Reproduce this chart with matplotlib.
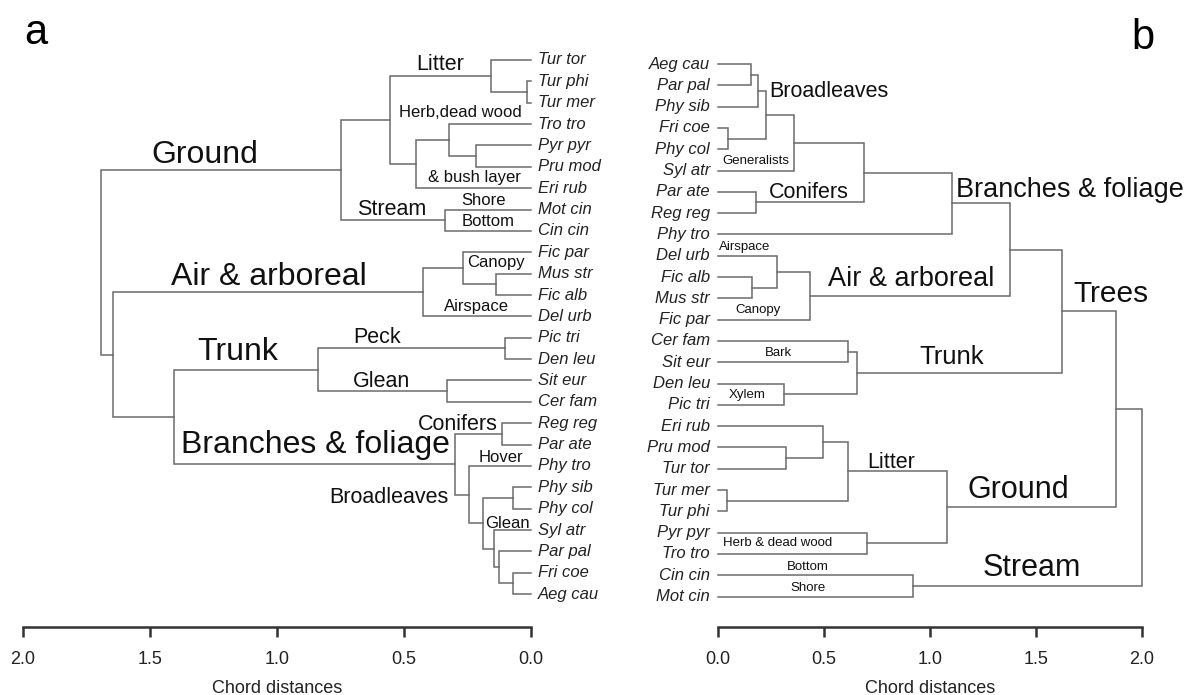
import matplotlib
matplotlib.use("Agg")
import matplotlib.pyplot as plt

plt.rcParams['font.family'] = ['Liberation Sans', 'DejaVu Sans']

# ---- panel a: leaves top to bottom, merges (a, b, height) ----
left_leaves = ['Tur tor', 'Tur phi', 'Tur mer', 'Tro tro', 'Pyr pyr', 'Pru mod',
               'Eri rub', 'Mot cin', 'Cin cin', 'Fic par', 'Mus str', 'Fic alb',
               'Del urb', 'Pic tri', 'Den leu', 'Sit eur', 'Cer fam', 'Reg reg',
               'Par ate', 'Phy tro', 'Phy sib', 'Phy col', 'Syl atr', 'Par pal',
               'Fri coe', 'Aeg cau']
# ints point at an earlier merge, strings at a leaf
left_a = ['Tur phi', 'Tur tor', 'Pyr pyr', 'Tro tro', 3, 1, 'Mot cin', 5,
          'Mus str', 'Fic par', 9, 'Pic tri', 'Sit eur', 11,
          'Reg reg', 'Phy sib', 'Fri coe', 'Par pal', 'Syl atr', 15, 'Phy tro', 14,
          13, 10, 7]
left_b = ['Tur mer', 0, 'Pru mod', 2, 'Eri rub', 4, 'Cin cin', 6,
          'Fic alb', 8, 'Del urb', 'Den leu', 'Cer fam', 12,
          'Par ate', 'Phy col', 'Aeg cau', 16, 17, 18, 19, 20,
          21, 22, 23]
left_h = [0.016, 0.157, 0.217, 0.323, 0.453, 0.555, 0.339, 0.748,
          0.138, 0.268, 0.425, 0.102, 0.331, 0.839,
          0.114, 0.071, 0.071, 0.126, 0.146, 0.189, 0.244, 0.299,
          1.406, 1.646, 1.691]

# ---- panel b ----
right_leaves = ['Aeg cau', 'Par pal', 'Phy sib', 'Fri coe', 'Phy col', 'Syl atr',
                'Par ate', 'Reg reg', 'Phy tro', 'Del urb', 'Fic alb', 'Mus str',
                'Fic par', 'Cer fam', 'Sit eur', 'Den leu', 'Pic tri', 'Eri rub',
                'Pru mod', 'Tur tor', 'Tur mer', 'Tur phi', 'Pyr pyr', 'Tro tro',
                'Cin cin', 'Mot cin']
right_a = ['Aeg cau', 0, 'Fri coe', 1, 3, 'Par ate', 4, 6,
           'Fic alb', 'Del urb', 9, 'Cer fam', 'Den leu', 11,
           'Pru mod', 'Eri rub', 'Tur mer', 15, 'Pyr pyr', 17, 'Cin cin',
           7, 21, 22, 23]
right_b = ['Par pal', 'Phy sib', 'Phy col', 2, 'Syl atr', 'Reg reg', 5, 'Phy tro',
           'Mus str', 8, 'Fic par', 'Sit eur', 'Pic tri', 12,
           'Tur tor', 14, 'Tur phi', 16, 'Tro tro', 18, 'Mot cin',
           10, 13, 19, 20]
right_h = [0.156, 0.190, 0.048, 0.225, 0.360, 0.178, 0.688, 1.104,
           0.160, 0.279, 0.434, 0.613, 0.312, 0.655,
           0.321, 0.496, 0.044, 0.613, 0.703, 1.080, 0.920,
           1.377, 1.623, 1.877, 2.000]

# group labels: text, distance, leaf position, size
left_labels = [('Ground', 1.283, 4.45, 23), ('Litter', 0.358, 0.23, 15.5),
               ('Herb,dead wood', 0.280, 2.48, 12), ('& bush layer', 0.224, 5.48, 12),
               ('Stream', 0.547, 6.98, 15.5), ('Shore', 0.185, 6.6, 12),
               ('Bottom', 0.169, 7.58, 12), ('Air & arboreal', 1.031, 10.15, 23),
               ('Canopy', 0.138, 9.5, 12), ('Airspace', 0.213, 11.56, 12),
               ('Trunk', 1.154, 13.67, 23), ('Peck', 0.606, 12.97, 15.5),
               ('Glean', 0.587, 15.03, 15.5), ('Branches & foliage', 0.850, 18.02, 23),
               ('Conifers', 0.287, 17.04, 15.5), ('Hover', 0.118, 18.59, 12),
               ('Broadleaves', 0.559, 20.46, 15.5), ('Glean', 0.091, 21.68, 12)]
right_labels = [('Broadleaves', 0.524, 1.31, 15.5), ('Generalists', 0.179, 4.55, 9.5),
                ('Conifers', 0.429, 6.01, 15.5), ('Branches & foliage', 1.660, 5.92, 19.5),
                ('Airspace', 0.127, 8.59, 9.5), ('Air & arboreal', 0.910, 10.09, 19.5),
                ('Canopy', 0.189, 11.55, 9.5), ('Trees', 1.854, 10.8, 21.5),
                ('Bark', 0.283, 13.57, 9.5), ('Xylem', 0.137, 15.54, 9.5),
                ('Trunk', 1.104, 13.76, 18.5), ('Litter', 0.816, 18.69, 15.5),
                ('Ground', 1.415, 20.0, 22), ('Herb & dead wood', 0.283, 22.49, 9.5),
                ('Bottom', 0.425, 23.62, 9.5), ('Shore', 0.425, 24.6, 9.5),
                ('Stream', 1.481, 23.66, 22)]

ticks = [0.0, 0.5, 1.0, 1.5, 2.0]
LINE = '#6b6b6b'
AXC = '#333333'


def draw_tree(ax, leaves, ma, mb, mh):
    pos = {name: (0.0, i) for i, name in enumerate(leaves)}
    nodes = []
    for a, b, h in zip(ma, mb, mh):
        xa, ya = nodes[a] if isinstance(a, int) else pos[a]
        xb, yb = nodes[b] if isinstance(b, int) else pos[b]
        ax.plot([xa, h, h, xb], [ya, ya, yb, yb], color=LINE, lw=1.1,
                solid_joinstyle='miter', clip_on=False)
        nodes.append((h, (ya + yb) / 2))


def setup_axis(ax, xlim, ylim):
    ax.set_xlim(*xlim)
    ax.set_ylim(*ylim)
    for s in ['top', 'left', 'right']:
        ax.spines[s].set_visible(False)
    ax.spines['bottom'].set_color(AXC)
    ax.spines['bottom'].set_linewidth(1.8)
    ax.set_yticks([])
    ax.set_xticks(ticks)
    ax.set_xticklabels(['%.1f' % t for t in ticks])
    ax.set_xticks([0.0, 2.0], minor=True)
    ax.tick_params(axis='x', which='major', direction='out', length=7, width=1.8,
                   color=AXC, pad=10, labelsize=13, labelcolor='#222222')
    ax.tick_params(axis='x', which='minor', direction='in', length=6, width=1.8,
                   color=AXC)
    ax.set_xlabel('Chord distances', fontsize=13, color='#222222', labelpad=9)
    ax.patch.set_visible(False)


W, H = 1190, 695
fig = plt.figure(figsize=(W / 100, H / 100), dpi=100)

# panel a
axa = fig.add_axes([23 / W, 1 - 627 / H, 508 / W, 587 / H])
setup_axis(axa, (2.0, 0.0), (26.54, -0.936))
draw_tree(axa, left_leaves, left_a, left_b, left_h)
for i, name in enumerate(left_leaves):
    axa.text(-0.028, i, name, ha='left', va='center', fontsize=12,
             style='italic', color='#222222')
for txt, x, y, s in left_labels:
    axa.text(x, y, txt, ha='center', va='center', fontsize=s, color='#111111')

# panel b
axb = fig.add_axes([718 / W, 1 - 627 / H, 424 / W, 587 / H])
setup_axis(axb, (0.0, 2.0), (26.43, -1.127))
draw_tree(axb, right_leaves, right_a, right_b, right_h)
for i, name in enumerate(right_leaves):
    axb.text(-0.038, i, name, ha='right', va='center', fontsize=12,
             style='italic', color='#222222')
for txt, x, y, s in right_labels:
    axb.text(x, y, txt, ha='center', va='center', fontsize=s, color='#111111')

fig.text(36 / W, 1 - 33 / H, 'a', ha='center', va='center', fontsize=30)
fig.text(1143 / W, 1 - 38 / H, 'b', ha='center', va='center', fontsize=30)

fig.savefig('out.png', dpi=100, facecolor='white')
